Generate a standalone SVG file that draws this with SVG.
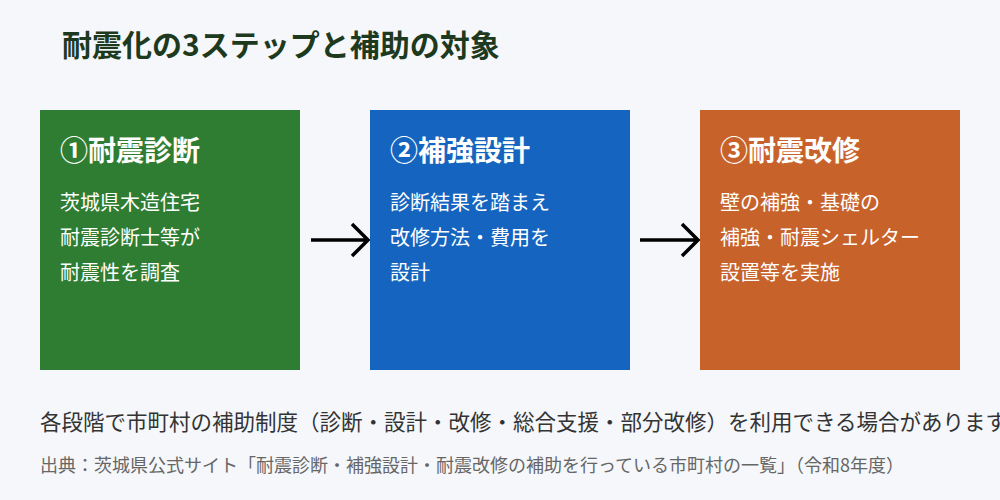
<svg xmlns="http://www.w3.org/2000/svg" width="1000" height="500" viewBox="0 0 1000 500">
<style>
text{font-family:"Noto Sans CJK JP","Noto Sans",sans-serif}
.h{font-size:28px;font-weight:bold;fill:#fff}
.b{font-size:20px;fill:#fff}
.c{stroke:#000;stroke-width:3.5;fill:none}
</style>
<rect width="1000" height="500" fill="#f5f7fa"/>
<text x="62" y="56" font-size="30" font-weight="bold" fill="#1e3a1e">耐震化の3ステップと補助の対象</text>
<g id="step1"><rect x="40" y="110" width="260" height="260" fill="#2e7d32"/>
<text class="h" x="60" y="161">①耐震診断</text>
<text class="b" x="60" y="210">茨城県木造住宅</text><text class="b" x="60" y="245">耐震診断士等が</text><text class="b" x="60" y="280">耐震性を調査</text></g>
<g id="step2"><rect x="370" y="110" width="260" height="260" fill="#1565c0"/>
<text class="h" x="390" y="161">②補強設計</text>
<text class="b" x="390" y="210">診断結果を踏まえ</text><text class="b" x="390" y="245">改修方法・費用を</text><text class="b" x="390" y="280">設計</text></g>
<g id="step3"><rect x="700" y="110" width="260" height="260" fill="#c8622b"/>
<text class="h" x="720" y="161">③耐震改修</text>
<text class="b" x="720" y="210">壁の補強・基礎の</text><text class="b" x="720" y="245">補強・耐震シェルター</text><text class="b" x="720" y="280">設置等を実施</text></g>
<g id="connectors">
<path class="c" d="M311,240 H368 M352,224 L368,240 L352,256"/>
<path class="c" d="M640,240 H698 M682,224 L698,240 L682,256"/>
</g>
<text x="40" y="430" font-size="21.5" fill="#333">各段階で市町村の補助制度（診断・設計・改修・総合支援・部分改修）を利用できる場合があります</text>
<text x="40" y="472" font-size="18" fill="#666">出典：茨城県公式サイト「耐震診断・補強設計・耐震改修の補助を行っている市町村の一覧」（令和8年度）</text>
</svg>
